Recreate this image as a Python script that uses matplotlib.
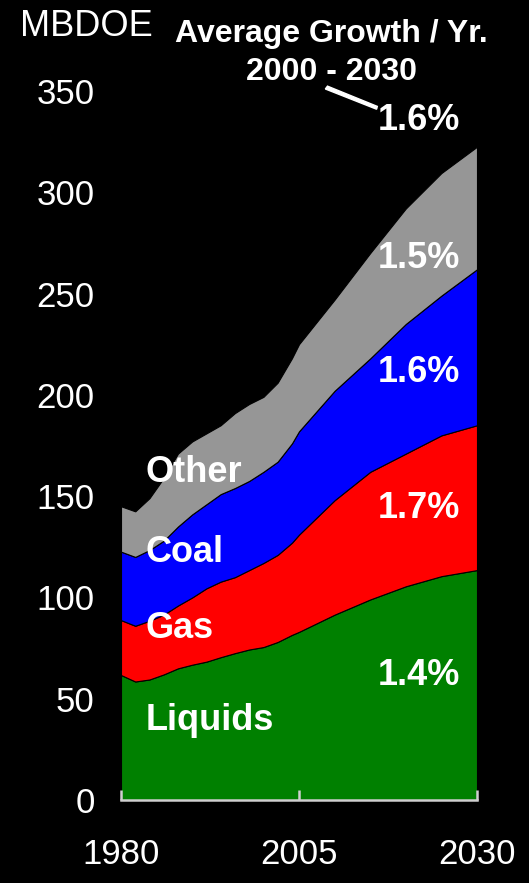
import matplotlib
matplotlib.use("Agg")
import matplotlib.pyplot as plt

plt.rcParams['font.family'] = ['Liberation Sans', 'DejaVu Sans']

# World energy demand by fuel, million barrels per day oil equivalent
years = [1980, 1982, 1984, 1986, 1988, 1990, 1992, 1994, 1996, 1998, 2000,
         2002, 2004, 2005, 2010, 2015, 2020, 2025, 2030]
liquids = [61.7, 58.5, 59.5, 62.0, 65.0, 66.8, 68.3, 70.5, 72.5, 74.3, 75.5,
           78.0, 81.5, 83.0, 91.5, 99.0, 105.5, 110.5, 113.5]
gas = [27.1, 27.5, 29.0, 29.5, 31.0, 33.2, 36.2, 37.3, 37.5, 39.2, 41.5,
       43.0, 45.5, 48.0, 56.5, 63.0, 65.5, 69.5, 71.5]
coal = [33.8, 34.0, 34.9, 36.5, 39.0, 41.0, 41.5, 43.2, 44.0, 44.0, 45.0,
        46.0, 49.0, 51.0, 54.0, 56.0, 64.0, 69.0, 77.0]
other = [22.4, 22.5, 25.6, 31.0, 36.0, 36.0, 35.0, 34.0, 37.0, 38.0, 37.0,
         39.0, 42.0, 43.0, 45.0, 52.0, 57.0, 60.5, 60.5]

fuel_names = ["Liquids", "Gas", "Coal", "Other"]
growth_labels = ["1.4%", "1.7%", "1.6%", "1.5%"]
total_growth = "1.6%"
x_ticks = [1980, 2005, 2030]
y_ticks = [0, 50, 100, 150, 200, 250, 300, 350]
colors = ["#008000", "#ff0000", "#0000ff", "#969696"]

W, H = 529, 883
fig = plt.figure(figsize=(W / 100, H / 100), dpi=100, facecolor="black")
ax = fig.add_axes([121 / W, 1 - 800 / H, (477 - 121) / W, (800 - 91) / H])
ax.set_facecolor("black")

ax.stackplot(years, liquids, gas, coal, other, colors=colors,
             edgecolor="black", linewidth=0.8)

ax.set_xlim(1980, 2030)
ax.set_ylim(0, 350)
ax.set_xticks(x_ticks)
ax.set_yticks(y_ticks)
ax.tick_params(axis="x", direction="in", length=7, width=1.8, color="#cfcfcf",
               labelcolor="white", labelsize=25, pad=27)
ax.tick_params(axis="y", length=0, labelcolor="white", labelsize=25, pad=19)
for side in ("left", "right", "top"):
    ax.spines[side].set_visible(False)
ax.spines["bottom"].set_color("#cfcfcf")
ax.spines["bottom"].set_linewidth(1.8)

# Fuel names on the left
name_pos = [(1983.4, 34.5), (1983.4, 80.0), (1983.4, 117.5), (1983.4, 157.0)]
for name, (x, y) in zip(fuel_names, name_pos):
    ax.text(x, y, name, color="white", fontsize=26, fontweight="bold",
            ha="left", va="baseline")

# Growth rates on the right
growth_pos = [56.8, 139.2, 206.3, 262.6]
for lab, y in zip(growth_labels, growth_pos):
    ax.text(2021.9, y, lab, color="white", fontsize=26, fontweight="bold",
            ha="center", va="baseline")

ax.text(2021.9, 330.7, total_growth, color="white", fontsize=26,
        fontweight="bold", ha="center", va="baseline", clip_on=False)
ax.fill([2008.7, 2009.0, 2016.0, 2015.9], [351.0, 352.4, 342.4, 341.0],
        color="white", clip_on=False)

ax.text(2009.6, 374.1, "Average Growth / Yr.", color="white", fontsize=23,
        fontweight="bold", ha="center", va="baseline", clip_on=False)
ax.text(2009.6, 355.4, "2000 - 2030", color="white", fontsize=23,
        fontweight="bold", ha="center", va="baseline", clip_on=False)
ax.text(1965.8, 377.0, "MBDOE", color="white", fontsize=26,
        ha="left", va="baseline", clip_on=False)

fig.savefig("out.png", dpi=100, facecolor="black")
